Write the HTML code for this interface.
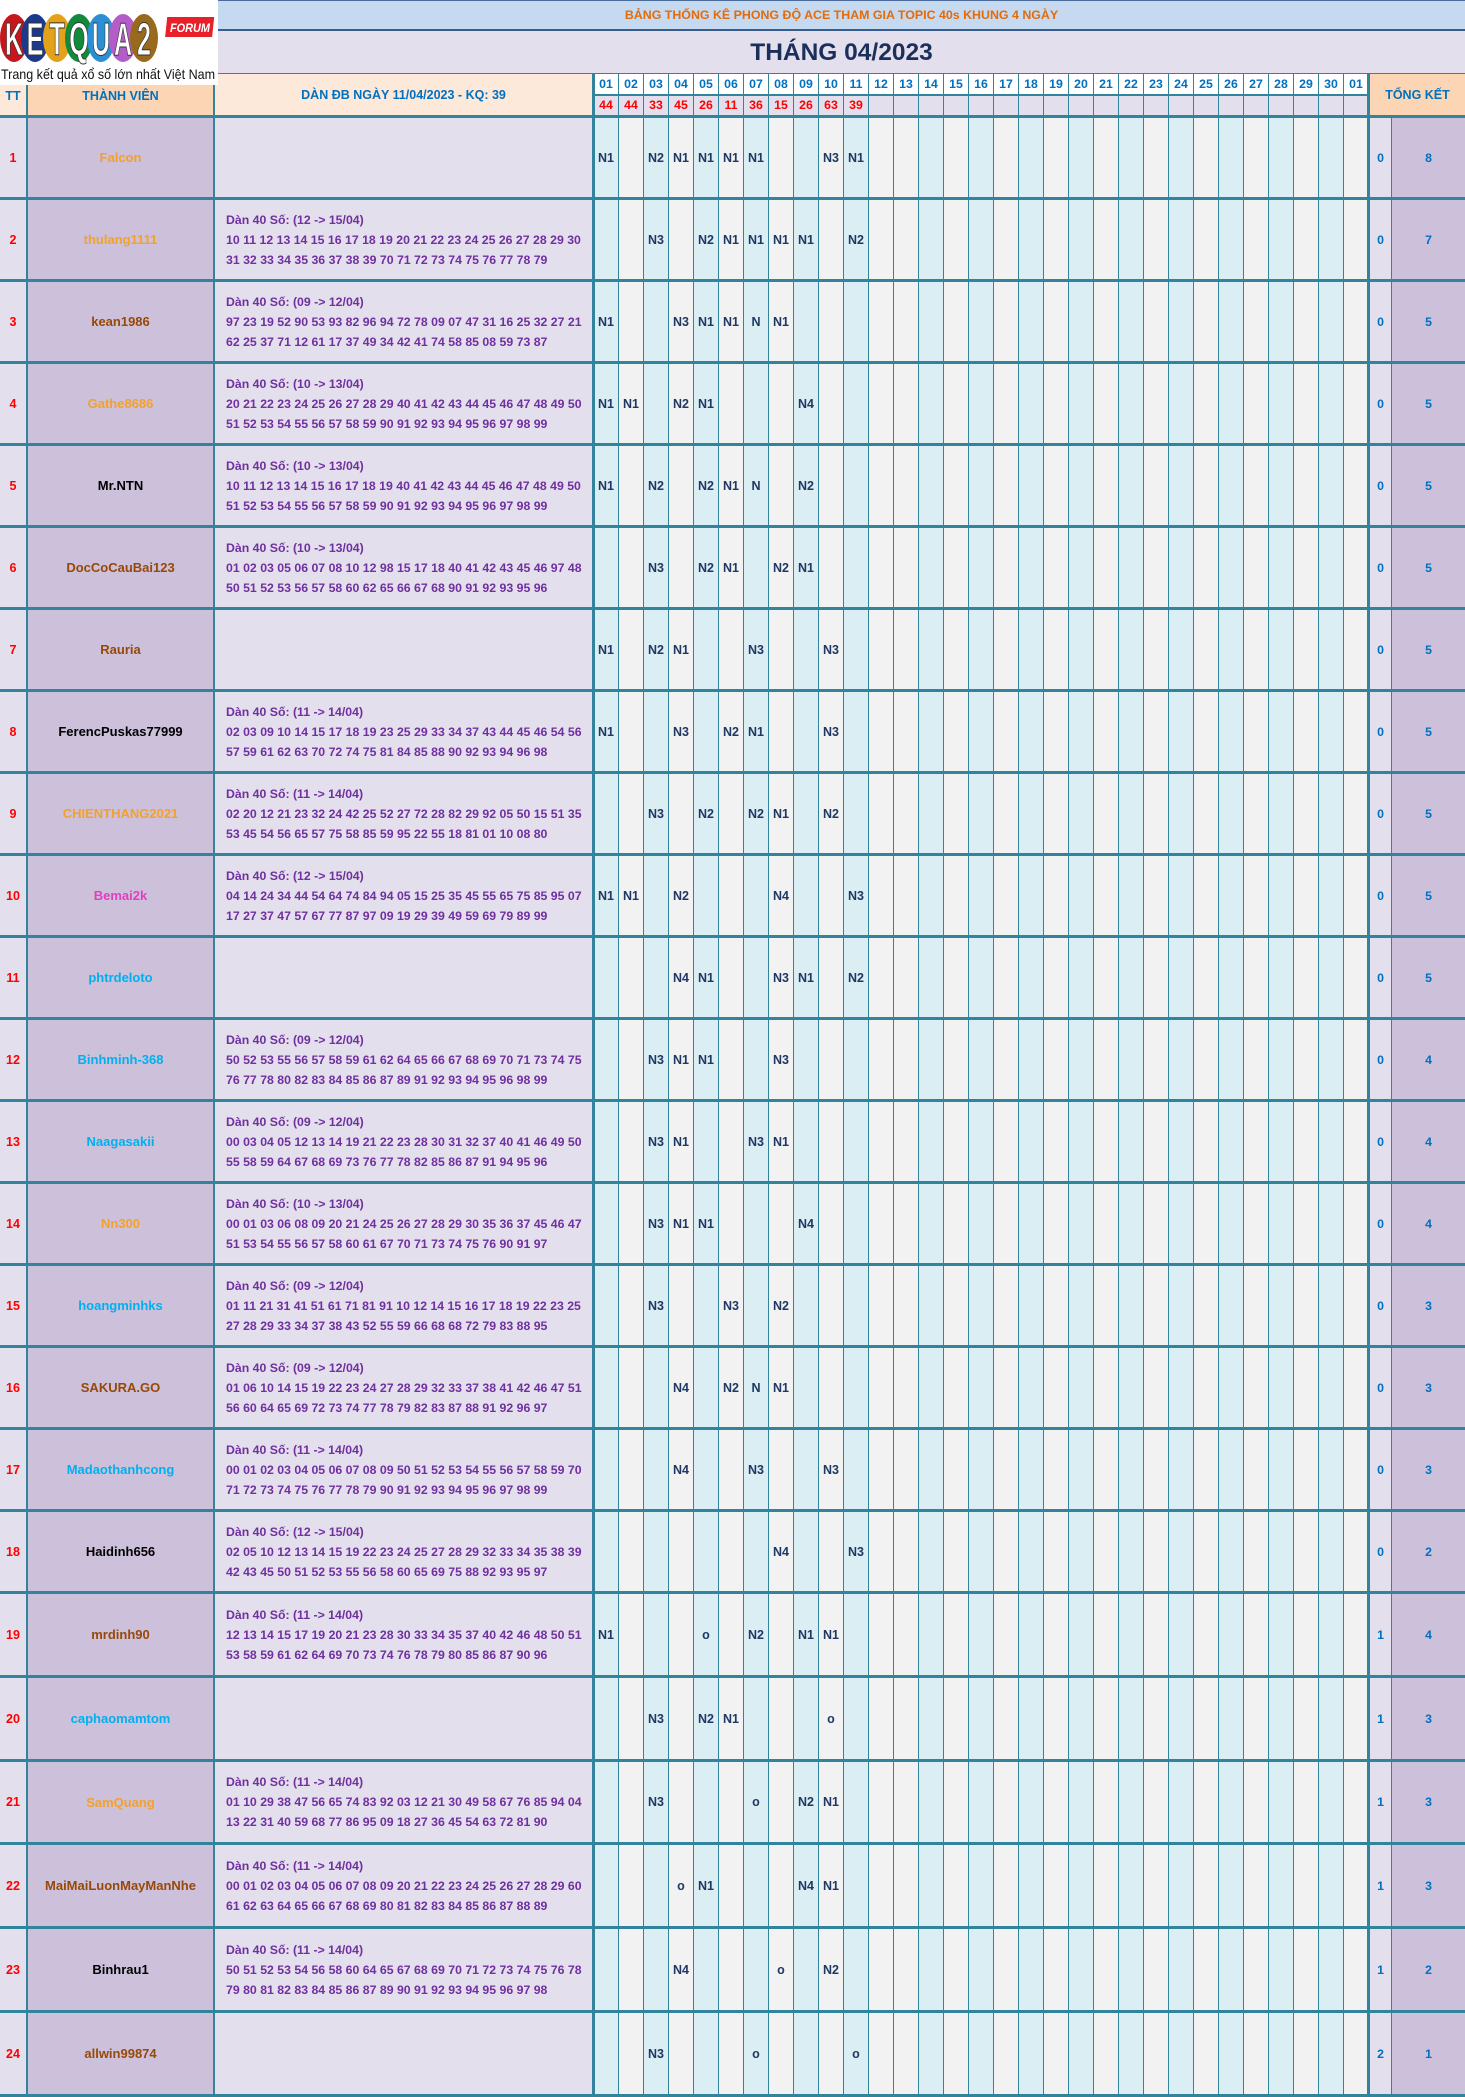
<!DOCTYPE html>
<html><head><meta charset="utf-8">
<style>
*{margin:0;padding:0;box-sizing:border-box}
body{width:1465px;height:2097px;position:relative;overflow:hidden;background:#fff;font-family:"Liberation Sans",Arial,sans-serif;font-weight:bold;font-size:12.3px}
.a{position:absolute}
.hl{position:absolute;left:0;width:1465px;height:3px;background:#31849b}
.vl{position:absolute;background:#31849b;bottom:0}
.col{position:absolute;top:118px;height:1976px;width:25px;border-right:1px solid #31849b}
.B{background:#daeef3}.G{background:#f2f2f2}
.grid{position:absolute;left:594px;width:775px;display:grid;grid-template-columns:repeat(31,25px)}
.grid span{border-right:1px solid #31849b;text-align:center;display:block}
.r{position:absolute;left:0;width:1465px}
.r div{position:absolute;top:0;height:100%;display:flex;align-items:center;justify-content:center;white-space:nowrap}
.r .t{left:0;width:26px;color:#f00;font-weight:bold;font-size:12.5px}
.r .n{left:28px;width:185px;font-size:13px}
.r .d{left:226px;width:366px;flex-direction:column;align-items:flex-start;justify-content:center;color:#7030a0;line-height:20px}
.r .m{width:24px;color:#1f3864;font-size:12.5px}
.r .x{left:1370px;width:21px;color:#0070c0}
.r .y{left:1392px;width:73px;color:#0070c0}
.o{color:#f4a12a}.br{color:#984807}.k{color:#000}.bl{color:#00b0f0}.mg{color:#e040c0}
</style></head><body>

<!-- title area -->
<div class="a" style="left:218px;top:0;width:1247px;height:29px;background:#c5d9f1;border-top:1px solid #4a6a9a;text-align:center;line-height:29px;color:#e26b0a;font-size:12.4px">BẢNG THỐNG KÊ PHONG ĐỘ ACE THAM GIA TOPIC 40s KHUNG 4 NGÀY</div>
<div class="a" style="left:218px;top:29px;width:1247px;height:2px;background:#385d8a"></div>
<div class="a" style="left:218px;top:31px;width:1247px;height:42px;background:#e4dfec;text-align:center;line-height:43px;color:#1a2f5a;font-size:24.5px">THÁNG 04/2023</div>
<div class="a" style="left:218px;top:73px;width:1247px;height:1px;background:#31849b"></div>

<!-- column backgrounds -->
<div class="a" style="left:0;top:115px;width:26px;height:1982px;background:#e4dfec"></div>
<div class="a" style="left:28px;top:115px;width:185px;height:1982px;background:#ccc0da"></div>
<div class="a" style="left:215px;top:115px;width:377px;height:1982px;background:#e4dfec"></div>
<div class="a" style="left:1370px;top:115px;width:21px;height:1982px;background:#e4dfec"></div>
<div class="a" style="left:1392px;top:115px;width:73px;height:1982px;background:#ccc0da"></div>

<div class="col B" style="left:594px"></div><div class="col G" style="left:619px"></div><div class="col B" style="left:644px"></div><div class="col G" style="left:669px"></div><div class="col B" style="left:694px"></div><div class="col G" style="left:719px"></div><div class="col B" style="left:744px"></div><div class="col G" style="left:769px"></div><div class="col B" style="left:794px"></div><div class="col G" style="left:819px"></div><div class="col B" style="left:844px"></div><div class="col G" style="left:869px"></div><div class="col G" style="left:894px"></div><div class="col B" style="left:919px"></div><div class="col G" style="left:944px"></div><div class="col B" style="left:969px"></div><div class="col G" style="left:994px"></div><div class="col B" style="left:1019px"></div><div class="col G" style="left:1044px"></div><div class="col B" style="left:1069px"></div><div class="col G" style="left:1094px"></div><div class="col B" style="left:1119px"></div><div class="col G" style="left:1144px"></div><div class="col B" style="left:1169px"></div><div class="col G" style="left:1194px"></div><div class="col B" style="left:1219px"></div><div class="col G" style="left:1244px"></div><div class="col B" style="left:1269px"></div><div class="col G" style="left:1294px"></div><div class="col B" style="left:1319px"></div><div class="col G" style="left:1344px"></div>

<!-- headers -->
<div class="a" style="left:0;top:85px;width:26px;height:30px;background:#fde9d9;color:#0070c0;text-align:center;line-height:23px;font-size:12.5px">TT</div>
<div class="a" style="left:28px;top:85px;width:185px;height:30px;background:#fcd5b4;color:#0070c0;text-align:center;line-height:23px;font-size:12.5px">THÀNH VIÊN</div>
<div class="a" style="left:215px;top:74px;width:377px;height:41px;background:#fde9d9;color:#0070c0;text-align:center;line-height:43px;font-size:12.5px">DÀN ĐB NGÀY 11/04/2023 - KQ: 39</div>
<div class="a" style="left:1370px;top:74px;width:95px;height:41px;background:#fcd5b4;color:#0070c0;text-align:center;line-height:43px;font-size:12.5px">TỔNG KẾT</div>

<div class="grid" style="top:74px;height:20px;background:#fff;color:#0070c0;line-height:20px"><span>01</span><span>02</span><span>03</span><span>04</span><span>05</span><span>06</span><span>07</span><span>08</span><span>09</span><span>10</span><span>11</span><span>12</span><span>13</span><span>14</span><span>15</span><span>16</span><span>17</span><span>18</span><span>19</span><span>20</span><span>21</span><span>22</span><span>23</span><span>24</span><span>25</span><span>26</span><span>27</span><span>28</span><span>29</span><span>30</span><span>01</span></div>
<div class="a" style="left:592px;top:94px;width:776px;height:2px;background:#31849b"></div>
<div class="grid" style="top:96px;height:19px;background:#e4dfec;color:#f00;line-height:19px"><span>44</span><span>44</span><span>33</span><span>45</span><span>26</span><span>11</span><span>36</span><span>15</span><span>26</span><span>63</span><span>39</span><span></span><span></span><span></span><span></span><span></span><span></span><span></span><span></span><span></span><span></span><span></span><span></span><span></span><span></span><span></span><span></span><span></span><span></span><span></span><span></span></div>

<!-- logo -->
<svg class="a" style="left:0;top:0" width="218" height="85" viewBox="0 0 218 85">
<rect width="218" height="85" fill="#fff"/>
<ellipse cx="14" cy="38" rx="14" ry="24" fill="#c8161d"/>
<ellipse cx="35" cy="38" rx="14" ry="24" fill="#1b3a8c"/>
<ellipse cx="57" cy="38" rx="14" ry="24" fill="#e3a21a"/>
<ellipse cx="79" cy="38" rx="14" ry="24" fill="#128a3c"/>
<ellipse cx="101" cy="38" rx="14" ry="24" fill="#2b8fd6"/>
<ellipse cx="123" cy="38" rx="14" ry="24" fill="#b45cc8"/>
<ellipse cx="144" cy="38" rx="14" ry="24" fill="#9a6a1c"/>
<g font-family="Liberation Sans" font-weight="bold" font-size="46" fill="#fff" stroke="#333" stroke-width="1" text-anchor="middle">
<text transform="translate(14,55) scale(0.55,1)">K</text>
<text transform="translate(35,55) scale(0.55,1)">E</text>
<text transform="translate(57,55) scale(0.55,1)">T</text>
<text transform="translate(79,55) scale(0.55,1)">Q</text>
<text transform="translate(101,55) scale(0.55,1)">U</text>
<text transform="translate(123,55) scale(0.55,1)">A</text>
<text transform="translate(144,55) scale(0.55,1)">2</text>
</g>
<rect x="166" y="17" width="47" height="20" fill="#e8202a" transform="skewX(-6) translate(3,0)"/>
<text x="190" y="32" font-family="Liberation Sans" font-weight="bold" font-style="italic" font-size="12" fill="#fff" text-anchor="middle" textLength="40" lengthAdjust="spacingAndGlyphs">FORUM</text>
<text x="1" y="79" font-family="Liberation Sans" font-weight="normal" font-size="14" fill="#111" textLength="214" lengthAdjust="spacingAndGlyphs">Trang kết quả xổ số lớn nhất Việt Nam</text>
</svg>

<!-- vertical thick lines -->
<div class="vl" style="left:26px;top:85px;width:2px"></div>
<div class="vl" style="left:213px;top:85px;width:2px"></div>
<div class="vl" style="left:592px;top:74px;width:3px"></div>
<div class="vl" style="left:1367px;top:74px;width:3px"></div>
<div class="vl" style="left:1391px;top:115px;width:1px"></div>

<!-- horizontal row lines -->
<div class="hl" style="top:115px"></div><div class="hl" style="top:197px"></div><div class="hl" style="top:279px"></div><div class="hl" style="top:361px"></div><div class="hl" style="top:443px"></div><div class="hl" style="top:525px"></div><div class="hl" style="top:607px"></div><div class="hl" style="top:689px"></div><div class="hl" style="top:771px"></div><div class="hl" style="top:853px"></div><div class="hl" style="top:935px"></div><div class="hl" style="top:1017px"></div><div class="hl" style="top:1099px"></div><div class="hl" style="top:1181px"></div><div class="hl" style="top:1263px"></div><div class="hl" style="top:1345px"></div><div class="hl" style="top:1427px"></div><div class="hl" style="top:1509px"></div><div class="hl" style="top:1591px"></div><div class="hl" style="top:1675px"></div><div class="hl" style="top:1759px"></div><div class="hl" style="top:1842px"></div><div class="hl" style="top:1926px"></div><div class="hl" style="top:2010px"></div><div class="hl" style="top:2094px"></div>

<!-- rows -->
<div class="r" style="top:118px;height:79px"><div class="t">1</div><div class="n o">Falcon</div>
<div class="m" style="left:594px">N1</div><div class="m" style="left:644px">N2</div><div class="m" style="left:669px">N1</div><div class="m" style="left:694px">N1</div><div class="m" style="left:719px">N1</div><div class="m" style="left:744px">N1</div><div class="m" style="left:819px">N3</div><div class="m" style="left:844px">N1</div>
<div class="x">0</div><div class="y">8</div></div>

<div class="r" style="top:200px;height:79px"><div class="t">2</div><div class="n o">thulang1111</div>
<div class="d"><p>Dàn 40 Số: (12 -&gt; 15/04)</p><p>10 11 12 13 14 15 16 17 18 19 20 21 22 23 24 25 26 27 28 29 30</p><p>31 32 33 34 35 36 37 38 39 70 71 72 73 74 75 76 77 78 79</p></div>
<div class="m" style="left:644px">N3</div><div class="m" style="left:694px">N2</div><div class="m" style="left:719px">N1</div><div class="m" style="left:744px">N1</div><div class="m" style="left:769px">N1</div><div class="m" style="left:794px">N1</div><div class="m" style="left:844px">N2</div>
<div class="x">0</div><div class="y">7</div></div>

<div class="r" style="top:282px;height:79px"><div class="t">3</div><div class="n br">kean1986</div>
<div class="d"><p>Dàn 40 Số: (09 -&gt; 12/04)</p><p>97 23 19 52 90 53 93 82 96 94 72 78 09 07 47 31 16 25 32 27 21</p><p>62 25 37 71 12 61 17 37 49 34 42 41 74 58 85 08 59 73 87</p></div>
<div class="m" style="left:594px">N1</div><div class="m" style="left:669px">N3</div><div class="m" style="left:694px">N1</div><div class="m" style="left:719px">N1</div><div class="m" style="left:744px">N</div><div class="m" style="left:769px">N1</div>
<div class="x">0</div><div class="y">5</div></div>

<div class="r" style="top:364px;height:79px"><div class="t">4</div><div class="n o">Gathe8686</div>
<div class="d"><p>Dàn 40 Số: (10 -&gt; 13/04)</p><p>20 21 22 23 24 25 26 27 28 29 40 41 42 43 44 45 46 47 48 49 50</p><p>51 52 53 54 55 56 57 58 59 90 91 92 93 94 95 96 97 98 99</p></div>
<div class="m" style="left:594px">N1</div><div class="m" style="left:619px">N1</div><div class="m" style="left:669px">N2</div><div class="m" style="left:694px">N1</div><div class="m" style="left:794px">N4</div>
<div class="x">0</div><div class="y">5</div></div>

<div class="r" style="top:446px;height:79px"><div class="t">5</div><div class="n k">Mr.NTN</div>
<div class="d"><p>Dàn 40 Số: (10 -&gt; 13/04)</p><p>10 11 12 13 14 15 16 17 18 19 40 41 42 43 44 45 46 47 48 49 50</p><p>51 52 53 54 55 56 57 58 59 90 91 92 93 94 95 96 97 98 99</p></div>
<div class="m" style="left:594px">N1</div><div class="m" style="left:644px">N2</div><div class="m" style="left:694px">N2</div><div class="m" style="left:719px">N1</div><div class="m" style="left:744px">N</div><div class="m" style="left:794px">N2</div>
<div class="x">0</div><div class="y">5</div></div>

<div class="r" style="top:528px;height:79px"><div class="t">6</div><div class="n br">DocCoCauBai123</div>
<div class="d"><p>Dàn 40 Số: (10 -&gt; 13/04)</p><p>01 02 03 05 06 07 08 10 12 98 15 17 18 40 41 42 43 45 46 97 48</p><p>50 51 52 53 56 57 58 60 62 65 66 67 68 90 91 92 93 95 96</p></div>
<div class="m" style="left:644px">N3</div><div class="m" style="left:694px">N2</div><div class="m" style="left:719px">N1</div><div class="m" style="left:769px">N2</div><div class="m" style="left:794px">N1</div>
<div class="x">0</div><div class="y">5</div></div>

<div class="r" style="top:610px;height:79px"><div class="t">7</div><div class="n br">Rauria</div>
<div class="m" style="left:594px">N1</div><div class="m" style="left:644px">N2</div><div class="m" style="left:669px">N1</div><div class="m" style="left:744px">N3</div><div class="m" style="left:819px">N3</div>
<div class="x">0</div><div class="y">5</div></div>

<div class="r" style="top:692px;height:79px"><div class="t">8</div><div class="n k">FerencPuskas77999</div>
<div class="d"><p>Dàn 40 Số: (11 -&gt; 14/04)</p><p>02 03 09 10 14 15 17 18 19 23 25 29 33 34 37 43 44 45 46 54 56</p><p>57 59 61 62 63 70 72 74 75 81 84 85 88 90 92 93 94 96 98</p></div>
<div class="m" style="left:594px">N1</div><div class="m" style="left:669px">N3</div><div class="m" style="left:719px">N2</div><div class="m" style="left:744px">N1</div><div class="m" style="left:819px">N3</div>
<div class="x">0</div><div class="y">5</div></div>

<div class="r" style="top:774px;height:79px"><div class="t">9</div><div class="n o">CHIENTHANG2021</div>
<div class="d"><p>Dàn 40 Số: (11 -&gt; 14/04)</p><p>02 20 12 21 23 32 24 42 25 52 27 72 28 82 29 92 05 50 15 51 35</p><p>53 45 54 56 65 57 75 58 85 59 95 22 55 18 81 01 10 08 80</p></div>
<div class="m" style="left:644px">N3</div><div class="m" style="left:694px">N2</div><div class="m" style="left:744px">N2</div><div class="m" style="left:769px">N1</div><div class="m" style="left:819px">N2</div>
<div class="x">0</div><div class="y">5</div></div>

<div class="r" style="top:856px;height:79px"><div class="t">10</div><div class="n mg">Bemai2k</div>
<div class="d"><p>Dàn 40 Số: (12 -&gt; 15/04)</p><p>04 14 24 34 44 54 64 74 84 94 05 15 25 35 45 55 65 75 85 95 07</p><p>17 27 37 47 57 67 77 87 97 09 19 29 39 49 59 69 79 89 99</p></div>
<div class="m" style="left:594px">N1</div><div class="m" style="left:619px">N1</div><div class="m" style="left:669px">N2</div><div class="m" style="left:769px">N4</div><div class="m" style="left:844px">N3</div>
<div class="x">0</div><div class="y">5</div></div>

<div class="r" style="top:938px;height:79px"><div class="t">11</div><div class="n bl">phtrdeloto</div>
<div class="m" style="left:669px">N4</div><div class="m" style="left:694px">N1</div><div class="m" style="left:769px">N3</div><div class="m" style="left:794px">N1</div><div class="m" style="left:844px">N2</div>
<div class="x">0</div><div class="y">5</div></div>

<div class="r" style="top:1020px;height:79px"><div class="t">12</div><div class="n bl">Binhminh-368</div>
<div class="d"><p>Dàn 40 Số: (09 -&gt; 12/04)</p><p>50 52 53 55 56 57 58 59 61 62 64 65 66 67 68 69 70 71 73 74 75</p><p>76 77 78 80 82 83 84 85 86 87 89 91 92 93 94 95 96 98 99</p></div>
<div class="m" style="left:644px">N3</div><div class="m" style="left:669px">N1</div><div class="m" style="left:694px">N1</div><div class="m" style="left:769px">N3</div>
<div class="x">0</div><div class="y">4</div></div>

<div class="r" style="top:1102px;height:79px"><div class="t">13</div><div class="n bl">Naagasakii</div>
<div class="d"><p>Dàn 40 Số: (09 -&gt; 12/04)</p><p>00 03 04 05 12 13 14 19 21 22 23 28 30 31 32 37 40 41 46 49 50</p><p>55 58 59 64 67 68 69 73 76 77 78 82 85 86 87 91 94 95 96</p></div>
<div class="m" style="left:644px">N3</div><div class="m" style="left:669px">N1</div><div class="m" style="left:744px">N3</div><div class="m" style="left:769px">N1</div>
<div class="x">0</div><div class="y">4</div></div>

<div class="r" style="top:1184px;height:79px"><div class="t">14</div><div class="n o">Nn300</div>
<div class="d"><p>Dàn 40 Số: (10 -&gt; 13/04)</p><p>00 01 03 06 08 09 20 21 24 25 26 27 28 29 30 35 36 37 45 46 47</p><p>51 53 54 55 56 57 58 60 61 67 70 71 73 74 75 76 90 91 97</p></div>
<div class="m" style="left:644px">N3</div><div class="m" style="left:669px">N1</div><div class="m" style="left:694px">N1</div><div class="m" style="left:794px">N4</div>
<div class="x">0</div><div class="y">4</div></div>

<div class="r" style="top:1266px;height:79px"><div class="t">15</div><div class="n bl">hoangminhks</div>
<div class="d"><p>Dàn 40 Số: (09 -&gt; 12/04)</p><p>01 11 21 31 41 51 61 71 81 91 10 12 14 15 16 17 18 19 22 23 25</p><p>27 28 29 33 34 37 38 43 52 55 59 66 68 68 72 79 83 88 95</p></div>
<div class="m" style="left:644px">N3</div><div class="m" style="left:719px">N3</div><div class="m" style="left:769px">N2</div>
<div class="x">0</div><div class="y">3</div></div>

<div class="r" style="top:1348px;height:79px"><div class="t">16</div><div class="n br">SAKURA.GO</div>
<div class="d"><p>Dàn 40 Số: (09 -&gt; 12/04)</p><p>01 06 10 14 15 19 22 23 24 27 28 29 32 33 37 38 41 42 46 47 51</p><p>56 60 64 65 69 72 73 74 77 78 79 82 83 87 88 91 92 96 97</p></div>
<div class="m" style="left:669px">N4</div><div class="m" style="left:719px">N2</div><div class="m" style="left:744px">N</div><div class="m" style="left:769px">N1</div>
<div class="x">0</div><div class="y">3</div></div>

<div class="r" style="top:1430px;height:79px"><div class="t">17</div><div class="n bl">Madaothanhcong</div>
<div class="d"><p>Dàn 40 Số: (11 -&gt; 14/04)</p><p>00 01 02 03 04 05 06 07 08 09 50 51 52 53 54 55 56 57 58 59 70</p><p>71 72 73 74 75 76 77 78 79 90 91 92 93 94 95 96 97 98 99</p></div>
<div class="m" style="left:669px">N4</div><div class="m" style="left:744px">N3</div><div class="m" style="left:819px">N3</div>
<div class="x">0</div><div class="y">3</div></div>

<div class="r" style="top:1512px;height:79px"><div class="t">18</div><div class="n k">Haidinh656</div>
<div class="d"><p>Dàn 40 Số: (12 -&gt; 15/04)</p><p>02 05 10 12 13 14 15 19 22 23 24 25 27 28 29 32 33 34 35 38 39</p><p>42 43 45 50 51 52 53 55 56 58 60 65 69 75 88 92 93 95 97</p></div>
<div class="m" style="left:769px">N4</div><div class="m" style="left:844px">N3</div>
<div class="x">0</div><div class="y">2</div></div>

<div class="r" style="top:1594px;height:81px"><div class="t">19</div><div class="n br">mrdinh90</div>
<div class="d"><p>Dàn 40 Số: (11 -&gt; 14/04)</p><p>12 13 14 15 17 19 20 21 23 28 30 33 34 35 37 40 42 46 48 50 51</p><p>53 58 59 61 62 64 69 70 73 74 76 78 79 80 85 86 87 90 96</p></div>
<div class="m" style="left:594px">N1</div><div class="m" style="left:694px">o</div><div class="m" style="left:744px">N2</div><div class="m" style="left:794px">N1</div><div class="m" style="left:819px">N1</div>
<div class="x">1</div><div class="y">4</div></div>

<div class="r" style="top:1678px;height:81px"><div class="t">20</div><div class="n bl">caphaomamtom</div>
<div class="m" style="left:644px">N3</div><div class="m" style="left:694px">N2</div><div class="m" style="left:719px">N1</div><div class="m" style="left:819px">o</div>
<div class="x">1</div><div class="y">3</div></div>

<div class="r" style="top:1762px;height:80px"><div class="t">21</div><div class="n o">SamQuang</div>
<div class="d"><p>Dàn 40 Số: (11 -&gt; 14/04)</p><p>01 10 29 38 47 56 65 74 83 92 03 12 21 30 49 58 67 76 85 94 04</p><p>13 22 31 40 59 68 77 86 95 09 18 27 36 45 54 63 72 81 90</p></div>
<div class="m" style="left:644px">N3</div><div class="m" style="left:744px">o</div><div class="m" style="left:794px">N2</div><div class="m" style="left:819px">N1</div>
<div class="x">1</div><div class="y">3</div></div>

<div class="r" style="top:1845px;height:81px"><div class="t">22</div><div class="n br">MaiMaiLuonMayManNhe</div>
<div class="d"><p>Dàn 40 Số: (11 -&gt; 14/04)</p><p>00 01 02 03 04 05 06 07 08 09 20 21 22 23 24 25 26 27 28 29 60</p><p>61 62 63 64 65 66 67 68 69 80 81 82 83 84 85 86 87 88 89</p></div>
<div class="m" style="left:669px">o</div><div class="m" style="left:694px">N1</div><div class="m" style="left:794px">N4</div><div class="m" style="left:819px">N1</div>
<div class="x">1</div><div class="y">3</div></div>

<div class="r" style="top:1929px;height:81px"><div class="t">23</div><div class="n k">Binhrau1</div>
<div class="d"><p>Dàn 40 Số: (11 -&gt; 14/04)</p><p>50 51 52 53 54 56 58 60 64 65 67 68 69 70 71 72 73 74 75 76 78</p><p>79 80 81 82 83 84 85 86 87 89 90 91 92 93 94 95 96 97 98</p></div>
<div class="m" style="left:669px">N4</div><div class="m" style="left:769px">o</div><div class="m" style="left:819px">N2</div>
<div class="x">1</div><div class="y">2</div></div>

<div class="r" style="top:2013px;height:81px"><div class="t">24</div><div class="n br">allwin99874</div>
<div class="m" style="left:644px">N3</div><div class="m" style="left:744px">o</div><div class="m" style="left:844px">o</div>
<div class="x">2</div><div class="y">1</div></div>

</body></html>
